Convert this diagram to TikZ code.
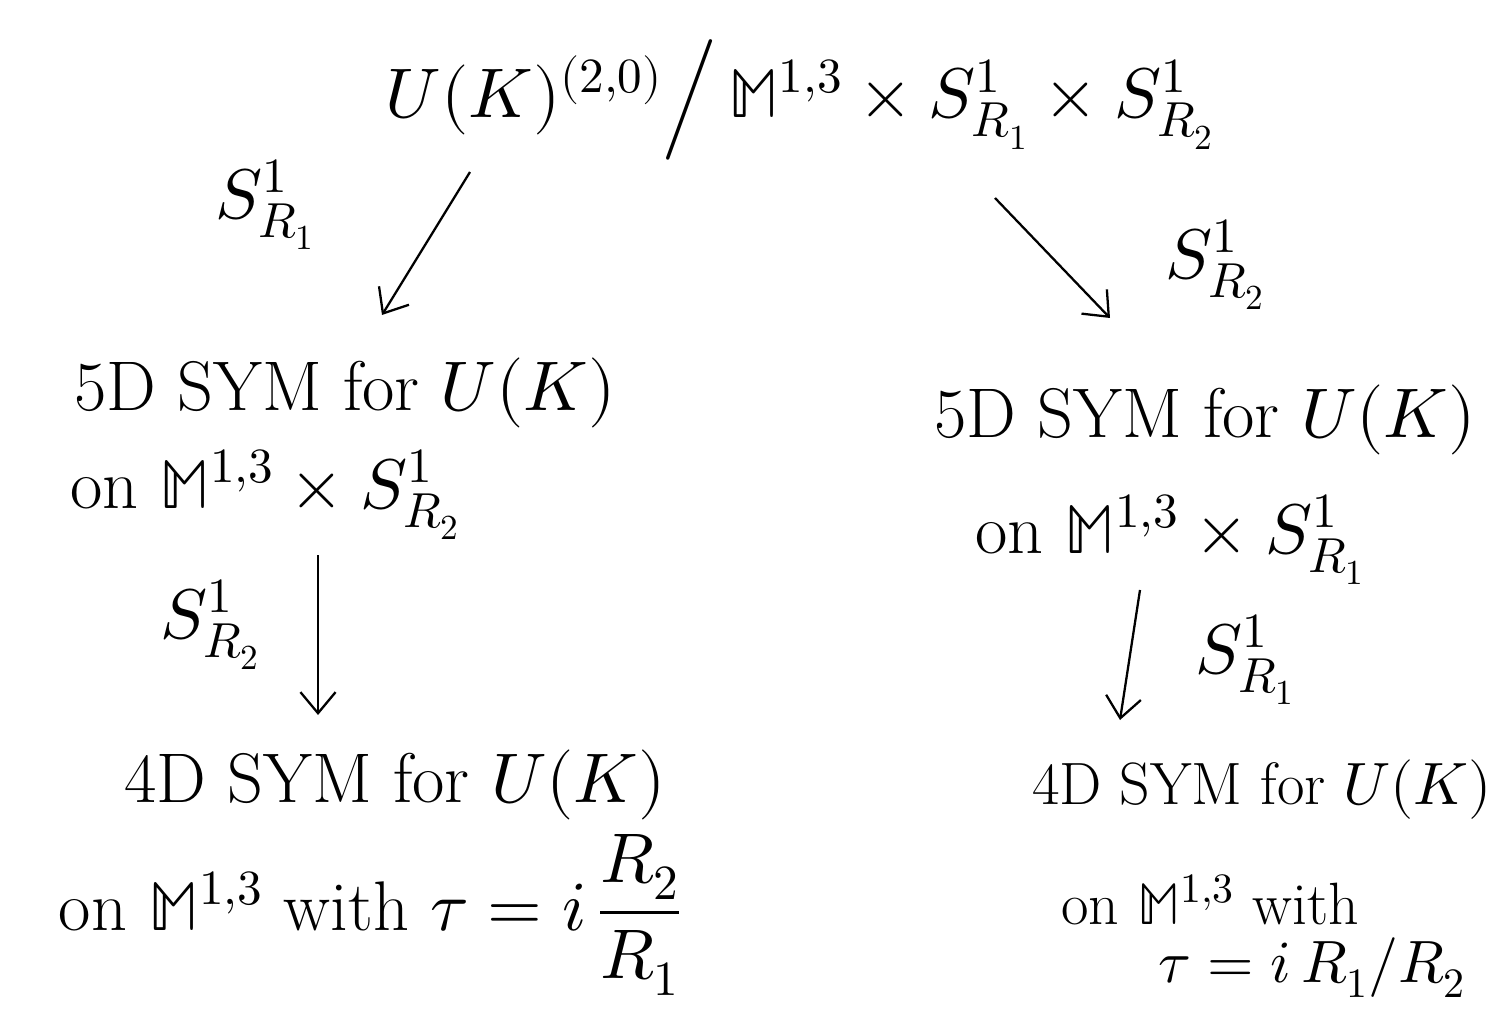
\documentclass[tikz,border=0pt]{standalone}
\usepackage{fontspec}
\usepackage{unicode-math}
\setmathfont{Latin Modern Math}
\usetikzlibrary{arrows.meta}
\begin{document}
\begin{tikzpicture}[x=0.02cm,y=-0.02cm,
  txt/.style={font=\fontsize{40}{48}\selectfont, inner sep=0pt, anchor=center},
  txts/.style={font=\fontsize{34}{40}\selectfont, inner sep=0pt, anchor=center},
  lab/.style={font=\fontsize{40}{48}\selectfont, inner sep=0pt},
  arr/.style={line width=1.3pt, -{Straight Barb[length=12pt,width=20pt]}}]
\useasboundingbox (0,0) rectangle (1492,1010);
% top
\node[txt] (top) at (800,100) {$U(K)^{(2,0)}\Big/\,\mathbb{M}^{1,3}\times S^1_{R_1}\times S^1_{R_2}$};
% middle
\node[txt] (l5a) at (345,393) {5D SYM for $U(K)$};
\node[txt] (l5b) at (265,495) {on $\mathbb{M}^{1,3}\times S^1_{R_2}$};
\node[txt] (r5a) at (1205,420) {5D SYM for $U(K)$};
\node[txt] (r5b) at (1170,540) {on $\mathbb{M}^{1,3}\times S^1_{R_1}$};
% bottom
\node[txt] (l4a) at (395,785) {4D SYM for $U(K)$};
\node[txt] (l4b) at (370,915) {on $\mathbb{M}^{1,3}$ with $\tau = i\,\dfrac{R_2}{R_1}$};
\node[txts] (r4a) at (1262,790) {4D SYM for $U(K)$};
\node[txts] (r4b) at (1210,900) {on $\mathbb{M}^{1,3}$ with};
\node[txts] (r4c) at (1312,968) {$\tau = i\,R_1/R_2$};
% arrow end points
\coordinate (a1s) at (470,172);
\coordinate (a1e) at (382,315);
\coordinate (a2s) at (995,198);
\coordinate (a2e) at (1110,318);
\coordinate (a3s) at (318,555);
\coordinate (a3e) at (318,715);
\coordinate (a4s) at (1140,590);
\coordinate (a4e) at (1120,720);
\draw[arr] (a1s) -- (a1e);
\draw[arr] (a2s) -- (a2e);
\draw[arr] (a3s) -- (a3e);
\draw[arr] (a4s) -- (a4e);
% arrow labels
\node[lab] (s1) at (265,205) {$S^1_{R_1}$};
\node[lab] (s2) at (1215,265) {$S^1_{R_2}$};
\node[lab] (s3) at (210,625) {$S^1_{R_2}$};
\node[lab] (s4) at (1245,660) {$S^1_{R_1}$};
\end{tikzpicture}
\end{document}
